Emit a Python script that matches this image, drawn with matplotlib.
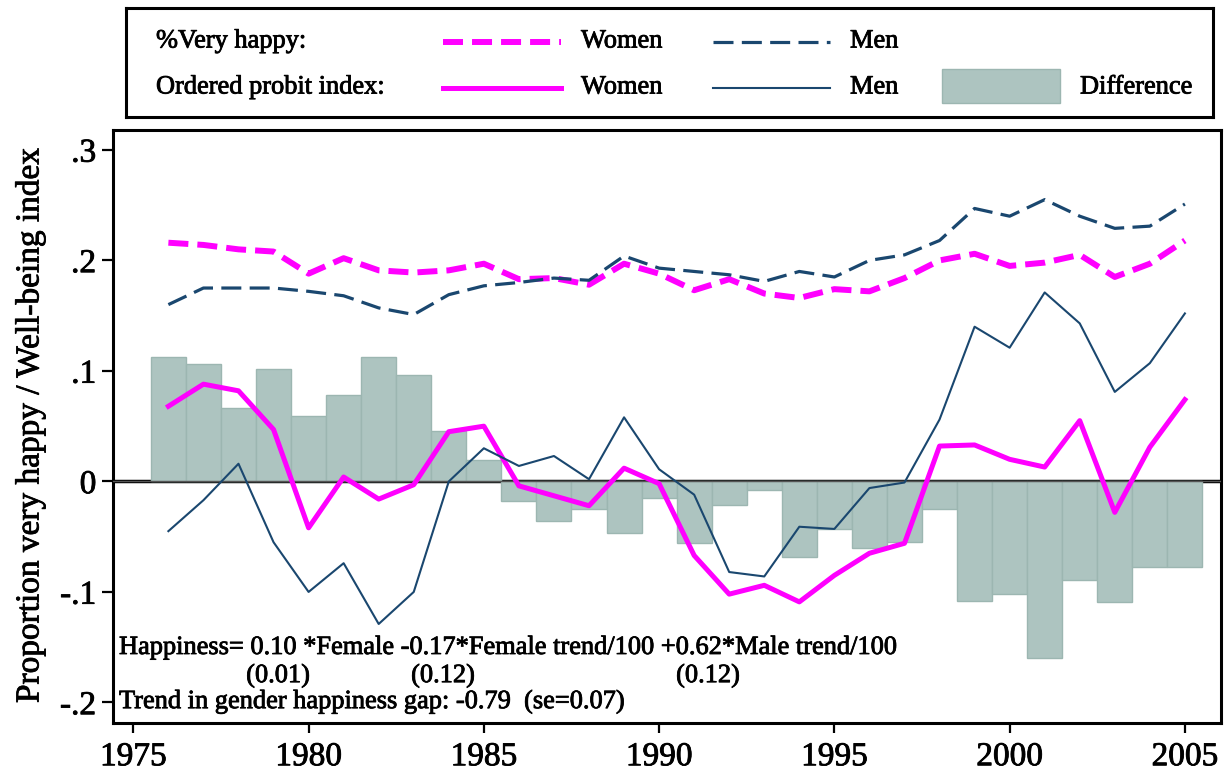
import matplotlib
matplotlib.use("Agg")
import matplotlib.pyplot as plt
from matplotlib.patches import Rectangle
import matplotlib.patheffects as pe

plt.rcParams['font.family'] = ['Liberation Serif', 'DejaVu Serif']
plt.rcParams['lines.scale_dashes'] = False

# data
years = list(range(1976, 2006))

women_vh = [0.216, 0.214, 0.210, 0.208, 0.188, 0.202, 0.191, 0.189, 0.191, 0.197,
            0.183, 0.184, 0.178, 0.197, 0.188, 0.173, 0.183, 0.170, 0.166, 0.174,
            0.172, 0.184, 0.200, 0.206, 0.195, 0.198, 0.205, 0.185, 0.197, 0.218]
men_vh = [0.160, 0.175, 0.175, 0.175, 0.172, 0.168, 0.157, 0.151, 0.169, 0.177,
          0.180, 0.184, 0.182, 0.204, 0.193, 0.190, 0.187, 0.181, 0.190, 0.185,
          0.200, 0.205, 0.218, 0.247, 0.240, 0.255, 0.240, 0.229, 0.231, 0.251]
women_idx = [0.068, 0.088, 0.082, 0.047, -0.042, 0.004, -0.016, -0.003, 0.045, 0.050,
             -0.004, -0.013, -0.022, 0.012, -0.002, -0.067, -0.102, -0.094, -0.109, -0.085,
             -0.065, -0.056, 0.032, 0.033, 0.020, 0.013, 0.055, -0.028, 0.031, 0.074]
men_idx = [-0.045, -0.017, 0.016, -0.055, -0.100, -0.074, -0.129, -0.100, 0.000, 0.030,
           0.014, 0.023, 0.002, 0.058, 0.011, -0.012, -0.082, -0.086, -0.041, -0.043,
           -0.006, -0.001, 0.056, 0.140, 0.121, 0.171, 0.143, 0.081, 0.107, 0.152]
difference = [0.113, 0.106, 0.066, 0.102, 0.059, 0.078, 0.113, 0.096, 0.046, 0.019,
              -0.018, -0.036, -0.025, -0.047, -0.015, -0.056, -0.021, -0.008, -0.068, -0.043,
              -0.060, -0.055, -0.025, -0.108, -0.102, -0.160, -0.089, -0.109, -0.077, -0.077]

xticks = [1975, 1980, 1985, 1990, 1995, 2000, 2005]
yticks = [0.3, 0.2, 0.1, 0.0, -0.1, -0.2]
ytick_labels = [".3", ".2", ".1", "0", "-.1", "-.2"]

pink = "#ff00ff"
navy = "#1a476f"
bar_col = "#adc4c0"
bar_edge = "#9cb6b1"

# slightly heavier text, like the original rendering
heavy = [pe.withStroke(linewidth=0.6, foreground="black")]

W, H = 1227, 774
fig = plt.figure(figsize=(W / 100, H / 100), dpi=100)

# main axes, placed in pixels
L, R, T, B = 113, 1221, 130, 723
ax = fig.add_axes([L / W, 1 - B / H, (R - L) / W, (B - T) / H])

ax.axhline(0, color="black", lw=2.5, zorder=1)
ax.bar(years, difference, width=1.0, color=bar_col, edgecolor=bar_edge, lw=1, zorder=2)
ax.axhline(0, color="#555555", lw=1, zorder=3)

ax.plot(years, women_vh, color=pink, lw=4.3, dashes=(14.4, 6.5), zorder=4)
ax.plot(years, men_vh, color=navy, lw=2.3, dashes=(14.4, 6.0), zorder=4)
ax.plot(years, women_idx, color=pink, lw=3.6, zorder=4)
ax.plot(years, men_idx, color=navy, lw=1.5, zorder=5)

ax.set_xlim(1974.42, 2006.03)
ax.set_ylim(-0.2186, 0.318)
ax.set_xticks(xticks)
ax.set_yticks(yticks)
ax.set_yticklabels(ytick_labels)
ax.tick_params(axis="x", length=7.5, width=1.6, pad=6, labelsize=24)
ax.tick_params(axis="y", length=8, width=1.6, pad=4, labelsize=24)
for lab in ax.get_xticklabels() + ax.get_yticklabels():
    lab.set_path_effects(heavy)
for s in ax.spines.values():
    s.set_linewidth(2.2)

ax.set_ylabel("Proportion very happy / Well-being index", fontsize=24, path_effects=heavy)
ax.yaxis.set_label_coords(-0.061, 0.5025)

# equation text
fs = 19
def px(x, y):
    return x / W, 1 - y / H

fig.text(*px(119, 648), "Happiness= 0.10 *Female -0.17*Female trend/100 +0.62*Male trend/100",
         fontsize=fs, va="center", ha="left", path_effects=heavy)
fig.text(*px(278, 676), "(0.01)", fontsize=fs, va="center", ha="center", path_effects=heavy)
fig.text(*px(443, 676), "(0.12)", fontsize=fs, va="center", ha="center", path_effects=heavy)
fig.text(*px(708, 676), "(0.12)", fontsize=fs, va="center", ha="center", path_effects=heavy)
fig.text(*px(119, 702), "Trend in gender happiness gap: -0.79  (se=0.07)",
         fontsize=fs, va="center", ha="left", path_effects=heavy)

# legend box drawn in its own axes (pixel units)
lx0, lx1, ly0, ly1 = 126, 1213, 8, 117
lg = fig.add_axes([lx0 / W, 1 - ly1 / H, (lx1 - lx0) / W, (ly1 - ly0) / H])
lg.set_xlim(lx0, lx1)
lg.set_ylim(ly1, ly0)
lg.set_xticks([])
lg.set_yticks([])
for s in lg.spines.values():
    s.set_linewidth(2.2)

lfs = 19
r1, r2 = 41.5, 87.5
lg.text(156, r1, "%Very happy:", fontsize=lfs, va="center", path_effects=heavy)
lg.text(156, r2, "Ordered probit index:", fontsize=lfs, va="center", path_effects=heavy)
lg.plot([443, 561], [r1, r1], color=pink, lw=4.3, dashes=(14.4, 6.5))
lg.plot([713, 830], [r1, r1], color=navy, lw=2.3, dashes=(14.4, 6.0))
lg.plot([443, 561], [r2, r2], color=pink, lw=3.6)
lg.plot([713, 830], [r2, r2], color=navy, lw=1.5)
lg.add_patch(Rectangle((942, 69), 118, 34, facecolor=bar_col, edgecolor=bar_edge, lw=1))
for x, y, s in [(581, r1, "Women"), (850, r1, "Men"), (581, r2, "Women"),
                (850, r2, "Men"), (1080, r2, "Difference")]:
    lg.text(x, y, s, fontsize=lfs, va="center", path_effects=heavy)

fig.savefig("out.png", dpi=100)
